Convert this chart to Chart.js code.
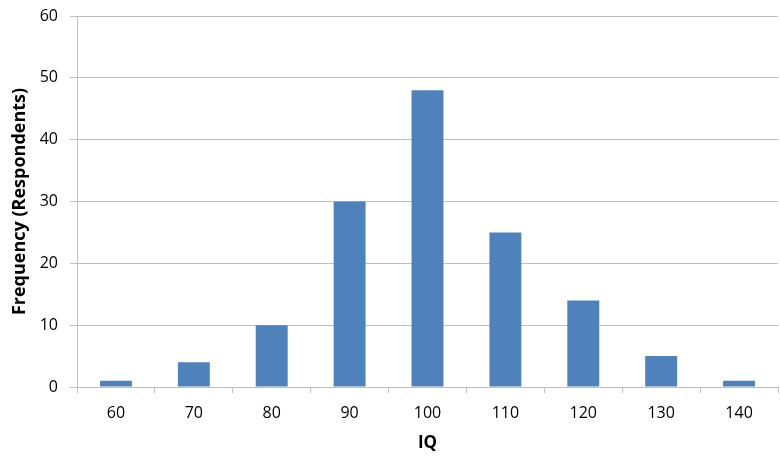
<!DOCTYPE html>
<html lang="en">
  <head>
    <meta charset="UTF-8" />
    <title>IQ Frequency</title>
    <script src="https://cdn.jsdelivr.net/npm/chart.js"></script>
    <style>
      body {
        margin: 0;
        background: #fff;
      }
      .wrap {
        width: 780px;
        height: 461px;
      }
    </style>
  </head>
  <body>
    <div class="wrap"><canvas id="iqChart"></canvas></div>
    <script>
      const iqLabels = ["60", "70", "80", "90", "100", "110", "120", "130", "140"];
      const respondents = [1, 4, 10, 30, 48, 25, 14, 5, 1];

      const gridGray = "#bfbfbf";
      const font = "'Open Sans', sans-serif";

      new Chart(document.getElementById("iqChart"), {
        type: "bar",
        data: {
          labels: iqLabels,
          datasets: [
            {
              label: "Frequency",
              data: respondents,
              backgroundColor: "#4f81bd",
              borderWidth: 0,
              categoryPercentage: 1,
              barPercentage: 0.41,
            },
          ],
        },
        options: {
          responsive: true,
          maintainAspectRatio: false,
          animation: false,
          layout: { padding: { top: 16, right: 2, left: 0, bottom: 0 } },
          plugins: {
            legend: { display: false },
            tooltip: { enabled: false },
          },
          scales: {
            x: {
              grid: {
                offset: true,
                drawOnChartArea: false,
                drawTicks: true,
                tickLength: 6,
                color: gridGray,
              },
              border: { color: gridGray },
              ticks: {
                color: "#000",
                font: { family: font, size: 16 },
                padding: 11,
              },
              title: {
                display: true,
                text: "IQ",
                color: "#000",
                font: { family: font, size: 17, weight: "bold" },
                padding: { top: 0, bottom: 8 },
              },
              afterFit: (scale) => {
                scale.height = 74;
              },
            },
            y: {
              min: 0,
              max: 60,
              ticks: {
                stepSize: 10,
                color: "#000",
                font: { family: font, size: 16 },
                padding: 12,
              },
              grid: { color: gridGray, tickLength: 7 },
              border: { color: gridGray },
              title: {
                display: true,
                text: "Frequency (Respondents)",
                color: "#000",
                font: { family: font, size: 18, weight: "bold" },
                padding: { top: 9, bottom: 4 },
              },
              afterFit: (scale) => {
                scale.width = 77;
                scale.paddingTop = 0;
                scale.paddingBottom = 0;
              },
            },
          },
        },
      });
    </script>
  </body>
</html>
